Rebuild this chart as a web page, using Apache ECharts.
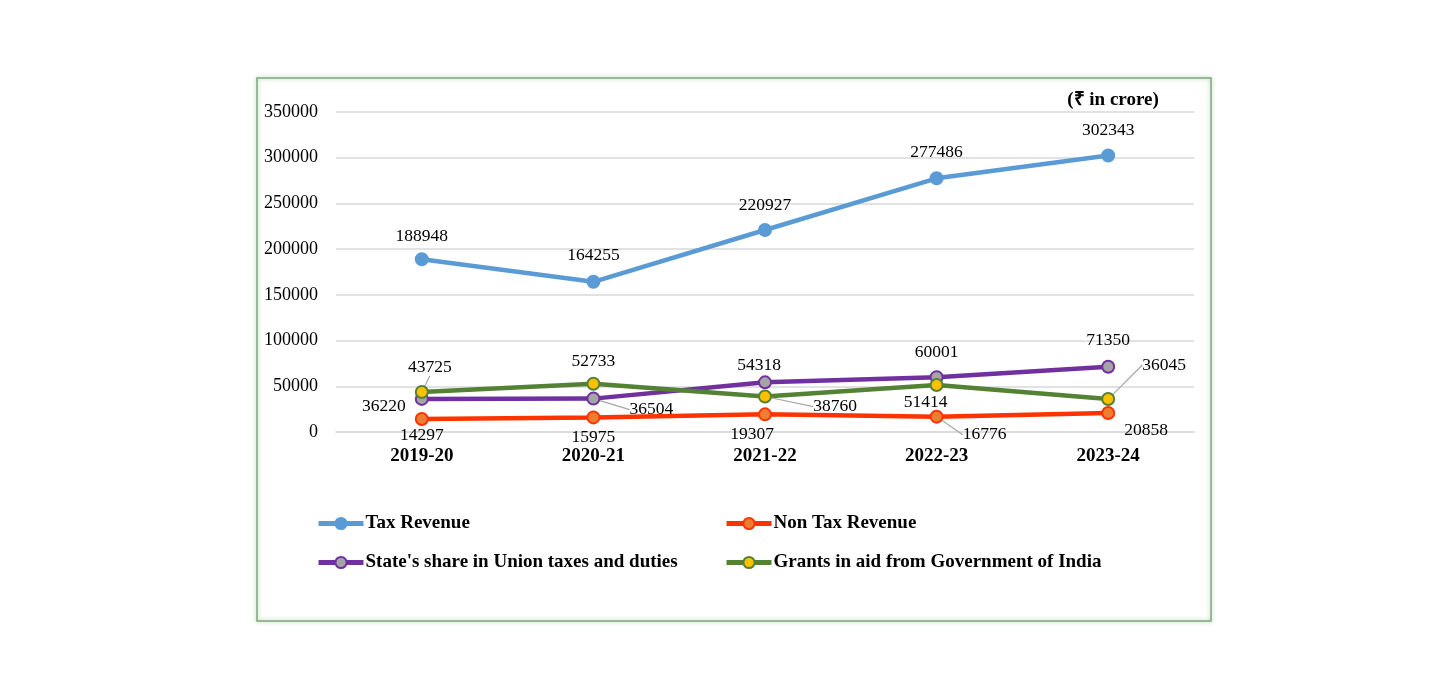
<!DOCTYPE html>
<html>
<head>
<meta charset="utf-8">
<script src="https://cdn.jsdelivr.net/npm/echarts@6/dist/echarts.min.js"></script>
<style>
html,body{margin:0;padding:0;background:#fff;}
#c{width:1444px;height:694px;}
</style>
</head>
<body>
<div id="c"></div>
<script>
// ---- data ----
const categories = ['2019-20', '2020-21', '2021-22', '2022-23', '2023-24'];
const seriesNames = ['Tax Revenue', 'Non Tax Revenue', "State's share in Union taxes and duties", 'Grants in aid from Government of India'];
const taxRevenue = [188948, 164255, 220927, 277486, 302343];
const nonTaxRevenue = [14297, 15975, 19307, 16776, 20858];
const stateShare = [36220, 36504, 54318, 60001, 71350];
const grantsInAid = [43725, 52733, 38760, 51414, 36045];
const yTicks = [0, 50000, 100000, 150000, 200000, 250000, 300000, 350000];

// ---- label layout (pixel offsets of label centre from point, leader line flag) ----
const labelLayouts = [
  [[0,-23,0],[0,-26,0],[0,-25,0],[0,-26,0],[0,-25,0]],
  [[0,16,0],[0,20,0],[-13,20,0],[48,18,1],[38,17,0]],
  [[-38,8,0],[58,11,1],[-6,-17,0],[0,-25,0],[0,-26,0]],
  [[8,-25,1],[0,-22,0],[70,10,1],[-11,17,0],[56,-34,1]]
];

const styles = [
  {line:'#5B9BD5', fill:'#5B9BD5', border:'#5B9BD5'},
  {line:'#FF3300', fill:'#ED7D31', border:'#FF3300'},
  {line:'#7030A0', fill:'#A5A5A5', border:'#7030A0'},
  {line:'#548235', fill:'#FFC000', border:'#548235'}
];
const values = [taxRevenue, nonTaxRevenue, stateShare, grantsInAid];

const serif = '"Liberation Serif","Times New Roman",serif';

const series = values.map((vals, si) => ({
  name: seriesNames[si],
  type: 'line',
  data: vals.map((v, di) => ({
    value: v,
    labelLine: {show: !!labelLayouts[si][di][2]}
  })),
  symbol: 'circle',
  symbolSize: 12,
  lineStyle: {color: styles[si].line, width: 4.5},
  itemStyle: {color: styles[si].fill, borderColor: styles[si].border, borderWidth: 2},
  label: {
    show: true,
    position: 'inside',
    fontFamily: serif,
    fontSize: 17.5,
    color: '#000',
    formatter: p => String(p.value)
  },
  labelLine: {
    show: true,
    lineStyle: {color: '#A6A6A6', width: 1.2}
  },
  labelLayout: function (p) {
    const l = labelLayouts[si][p.dataIndex];
    const cx = p.rect.x + p.rect.width / 2;
    const cy = p.rect.y + p.rect.height / 2;
    return {x: cx + l[0], y: cy + l[1], align: 'center', verticalAlign: 'middle'};
  },
  z: 2 + si
}));

const legendPos = [[316, 514], [724, 514], [316, 553], [724, 553]];
const legends = seriesNames.map((n, i) => ({
  data: [n],
  left: legendPos[i][0],
  top: legendPos[i][1],
  padding: 0,
  itemWidth: 45,
  itemHeight: 14,
  itemGap: 4,
  lineStyle: {width: 5},
  textStyle: {fontFamily: serif, fontSize: 19, fontWeight: 'bold', color: '#000', padding: [0,0,0,-3]}
}));

const chart = echarts.init(document.getElementById('c'));
chart.setOption({
  animation: false,
  backgroundColor: '#fff',
  title: {
    text: '(\u20B9 in crore)',
    left: 1108, top: 86,
    textAlign: 'center',
    textStyle: {fontFamily: serif, fontSize: 19, fontWeight: 'bold', color: '#000'}
  },
  graphic: [{
    type: 'rect',
    shape: {x: 257, y: 78, width: 954, height: 543},
    style: {fill: 'none', stroke: '#7FA67F', lineWidth: 1.5, shadowBlur: 4, shadowColor: 'rgba(120,180,120,0.7)'},
    silent: true, z: -1
  }],
  legend: legends,
  grid: {left: 336, right: 250, top: 112, bottom: 262},
  xAxis: {
    type: 'category',
    data: categories,
    boundaryGap: true,
    axisLine: {show: true, lineStyle: {color: '#D9D9D9', width: 1.5}},
    axisTick: {show: false},
    axisLabel: {fontFamily: serif, fontSize: 19, fontWeight: 'bold', color: '#000', margin: 15}
  },
  yAxis: {
    type: 'value',
    min: yTicks[0],
    max: yTicks[yTicks.length - 1],
    interval: yTicks[1] - yTicks[0],
    axisLine: {show: false},
    axisTick: {show: false},
    splitLine: {lineStyle: {color: '#D9D9D9', width: 1.5}},
    axisLabel: {fontFamily: serif, fontSize: 18, color: '#000', margin: 18, formatter: v => String(v)}
  },
  series: series
});
</script>
</body>
</html>
